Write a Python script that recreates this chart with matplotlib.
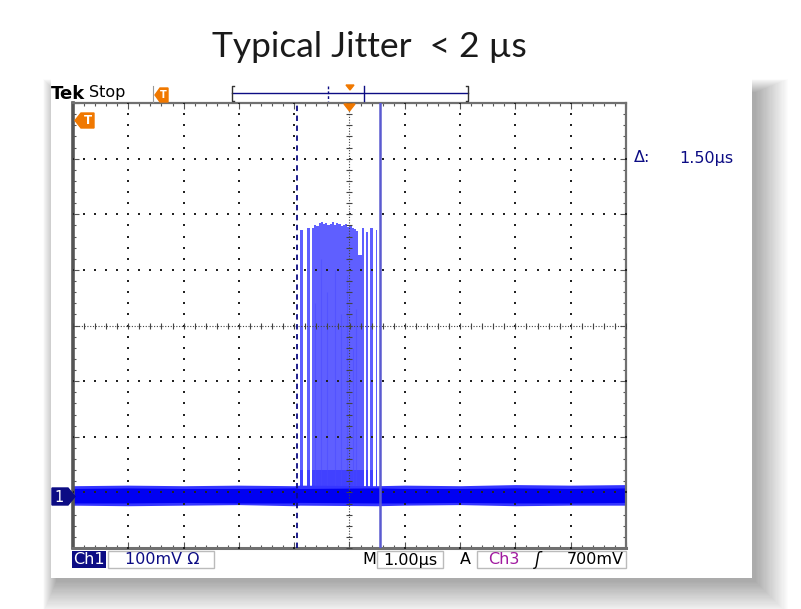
import numpy as np
import matplotlib
matplotlib.use("Agg")
import matplotlib.pyplot as plt
from matplotlib.patches import Rectangle, Polygon

# ---- data (time in us, amplitude in screen divisions) ----
noise_t = [-5.0, -4.0, -3.0, -2.0, -1.0, -0.9, 0.5, 1.0, 2.0, 3.0, 4.0, 5.0]
noise_outer_hi = [-2.88, -2.87, -2.88, -2.87, -2.88, -2.87, -2.88, -2.87, -2.88, -2.86, -2.87, -2.86]
noise_outer_lo = [-3.23, -3.24, -3.23, -3.22, -3.24, -3.23, -3.24, -3.23, -3.22, -3.24, -3.23, -3.23]
noise_core_hi = [-2.93, -2.92, -2.93, -2.93, -2.92, -2.93, -2.92, -2.93, -2.93, -2.92, -2.93, -2.92]
noise_core_lo = [-3.19, -3.19, -3.18, -3.19, -3.19, -3.18, -3.19, -3.19, -3.18, -3.19, -3.19, -3.18]

# burst segments: left edge, right edge, top
burst_left = [-0.90, -0.77,
              -0.68, -0.64, -0.60, -0.56, -0.52, -0.48, -0.44, -0.40, -0.36, -0.32, -0.28,
              -0.24, -0.20, -0.16, -0.12, -0.08, -0.04, 0.00, 0.04, 0.08, 0.12,
              0.15, 0.23, 0.30, 0.37, 0.48]
burst_right = [-0.84, -0.72,
               -0.64, -0.60, -0.56, -0.52, -0.48, -0.44, -0.40, -0.36, -0.32, -0.28, -0.24,
               -0.20, -0.16, -0.12, -0.08, -0.04, 0.00, 0.04, 0.08, 0.12, 0.15,
               0.23, 0.26, 0.33, 0.42, 0.50]
burst_top = [1.72, 1.75,
             1.76, 1.80, 1.78, 1.84, 1.86, 1.82, 1.85, 1.80, 1.83, 1.86, 1.81,
             1.84, 1.82, 1.78, 1.80, 1.83, 1.77, 1.80, 1.75, 1.74, 1.70,
             1.27, 1.75, 1.68, 1.75, 1.72]

# darker streaks inside the burst: position, top
streak_t = [-0.62, -0.51, -0.40, -0.27, -0.16, -0.05, 0.06, 0.12]
streak_top = [0.4, 1.2, 0.6, 1.0, 0.2, 0.9, -0.4, 0.3]

cursor_a = -0.95
cursor_b = 0.55
baseline = -3.05

BLUE = "#0000f2"
NAVY = "#0c0c84"
ORANGE = "#f07800"

fig = plt.figure(figsize=(8.01, 6.09), dpi=100)

# background layer in pixel coordinates
bg = fig.add_axes([0, 0, 1, 1], zorder=0)
bg.set_xlim(0, 801)
bg.set_ylim(609, 0)
bg.axis("off")

# soft shadow of the screenshot panel (down and to the right)
for k in range(28):
    pad = k * 1.2
    bg.add_patch(Rectangle((56 - pad * 0.4, 92 - pad * 0.4), 700 + pad * 1.4, 490 + pad * 1.4,
                           facecolor="black", alpha=0.011, linewidth=0))
bg.add_patch(Rectangle((51, 77), 701, 501, facecolor="white", linewidth=0))

bg.text(369, 47, "Typical Jitter  < 2 \u00b5s", ha="center", va="center",
        fontsize=25.5, family="Lato", color="#1a1a1a")

# ---- scope screen ----
ax = fig.add_axes([73 / 801, (609 - 548) / 609, (626 - 73) / 801, (548 - 103) / 609], zorder=1)
ax.set_xlim(-5, 5)
ax.set_ylim(-4, 4)
ax.set_facecolor("white")
for s in ax.spines.values():
    s.set_color("#707070")
    s.set_linewidth(1.6)
ax.spines["left"].set_linewidth(2.6)
ax.spines["bottom"].set_linewidth(2.2)
ax.spines["left"].set_color("#555555")
ax.set_xticks(np.arange(-5, 5.01, 1))
ax.set_yticks(np.arange(-4, 4.01, 1))
ax.set_xticks(np.arange(-5, 5.01, 0.2), minor=True)
ax.set_yticks(np.arange(-4, 4.01, 0.2), minor=True)
ax.tick_params(which="both", direction="in", top=True, right=True, color="#555555",
               labelbottom=False, labelleft=False, width=0.8)
ax.tick_params(which="major", length=4)
ax.tick_params(which="minor", length=2.5)

# waveform: baseline noise band
ax.fill_between(noise_t, noise_outer_lo, noise_outer_hi, color="#3535ff", linewidth=0, zorder=2)
ax.fill_between(noise_t, noise_core_lo, noise_core_hi, color=BLUE, linewidth=0, zorder=2)

# burst envelope
heights = [t - baseline for t in burst_top]
widths = [r - l for l, r in zip(burst_left, burst_right)]
ax.bar(burst_left, heights, width=widths, bottom=baseline, align="edge",
       color="#5f5fff", linewidth=0, zorder=1.5)
ax.bar(burst_left, [0.45] * len(burst_left), width=widths, bottom=baseline, align="edge",
       color="#2a2aff", alpha=0.55, linewidth=0, zorder=1.6)
ax.vlines(streak_t, baseline, streak_top, color="#4848ff", linewidth=0.8, alpha=0.5, zorder=1.7)

# grid dots and center graticule
xx = np.arange(-5, 5.01, 0.2)
yy = np.arange(-4, 4.01, 0.2)
for xv in [-4, -3, -2, -1, 1, 2, 3, 4]:
    ax.scatter(np.full(yy.size, xv), yy, s=1.2, color="#222222", marker="s", linewidths=0, zorder=3)
for yv in [-3, -2, -1, 1, 2, 3]:
    ax.scatter(xx, np.full(xx.size, yv), s=1.2, color="#222222", marker="s", linewidths=0, zorder=3)
ax.axhline(0, color="#444444", linewidth=0.8, linestyle=(0, (1, 1.5)), zorder=3)
ax.axvline(0, color="#444444", linewidth=0.8, linestyle=(0, (1, 1.5)), zorder=3)
ax.plot(xx, np.zeros(xx.size), linestyle="none", marker="|", markersize=5, color="#444444",
        markeredgewidth=0.8, zorder=3)
ax.plot(np.zeros(yy.size), yy, linestyle="none", marker="_", markersize=5, color="#444444",
        markeredgewidth=0.8, zorder=3)

# cursors
ax.axvline(cursor_a, color=NAVY, linewidth=1.3, linestyle=(0, (3, 2.5)), zorder=4)
ax.axvline(cursor_b, color="#5a5ad0", linewidth=1.8, zorder=4)

# ---- overlay: readouts and markers (pixel coordinates) ----
fg = fig.add_axes([0, 0, 1, 1], zorder=2)
fg.set_xlim(0, 801)
fg.set_ylim(609, 0)
fg.axis("off")
fg.patch.set_alpha(0)

fg.text(51, 94, "Tek", fontsize=13, fontweight="bold", va="center", ha="left", color="black")
fg.text(89, 93, "Stop", fontsize=11.5, va="center", ha="left", color="black")

# trigger position icon
fg.plot([153, 153], [86, 102], color="#999999", linewidth=0.8)
fg.add_patch(Polygon([[155, 95], [160, 88], [168, 88], [168, 102], [160, 102]], color=ORANGE))
fg.text(163, 95.5, "T", fontsize=7, fontweight="bold", color="white", ha="center", va="center")

# record bar
fg.plot([232, 468], [93, 93], color=NAVY, linewidth=1)
fg.plot([234, 232, 232, 234], [86, 86, 101, 101], color="#333333", linewidth=1)
fg.plot([466, 468, 468, 466], [86, 86, 101, 101], color="#333333", linewidth=1)
fg.plot([328, 328], [86, 101], color=NAVY, linewidth=1, linestyle=(0, (2, 1.5)))
fg.plot([364, 364], [86, 101], color=NAVY, linewidth=1)
fg.add_patch(Polygon([[346, 85], [354, 85], [350, 90]], color=ORANGE))

# trigger point and level markers on screen
fg.add_patch(Polygon([[344, 104], [355, 104], [349.5, 111]], color=ORANGE))
fg.add_patch(Polygon([[75, 120.5], [81, 113], [94, 113], [94, 128], [81, 128]], color=ORANGE))
fg.text(87.5, 121, "T", fontsize=8.5, fontweight="bold", color="white", ha="center", va="center")

# channel 1 ground marker
fg.add_patch(Polygon([[52, 488], [68, 488], [75, 496.5], [68, 505], [52, 505]], color=NAVY))
fg.text(59.5, 497, "1", fontsize=10.5, color="white", ha="center", va="center")

# cursor readout
fg.text(634, 158, "\u0394:", fontsize=11.5, color=NAVY, ha="left", va="center")
fg.text(679, 158, "1.50\u00b5s", fontsize=11.5, color=NAVY, ha="left", va="center")

# status bar
fg.add_patch(Rectangle((72, 551), 34, 17, color=NAVY, linewidth=0))
fg.text(89, 560, "Ch1", fontsize=11.5, color="white", ha="center", va="center")
fg.add_patch(Rectangle((108, 551), 106, 17, facecolor="white", edgecolor="#bbbbbb", linewidth=1))
fg.text(125, 560, "100mV \u03a9", fontsize=11.5, color=NAVY, ha="left", va="center")
fg.text(369, 560, "M", fontsize=11.5, color="black", ha="center", va="center")
fg.add_patch(Rectangle((377, 551), 66, 17, facecolor="white", edgecolor="#bbbbbb", linewidth=1))
fg.text(410, 560, "1.00\u00b5s", fontsize=11.5, color="black", ha="center", va="center")
fg.text(465, 560, "A", fontsize=11.5, color="black", ha="center", va="center")
fg.add_patch(Rectangle((477, 551), 149, 17, facecolor="white", edgecolor="#bbbbbb", linewidth=1))
fg.text(488, 560, "Ch3", fontsize=11.5, color="#a0199f", ha="left", va="center")
fg.text(538, 560, "\u0283", fontsize=12, color="black", ha="center", va="center", style="italic")
fg.text(624, 560, "700mV", fontsize=11.5, color="black", ha="right", va="center")

fig.savefig("out.png", dpi=100)
